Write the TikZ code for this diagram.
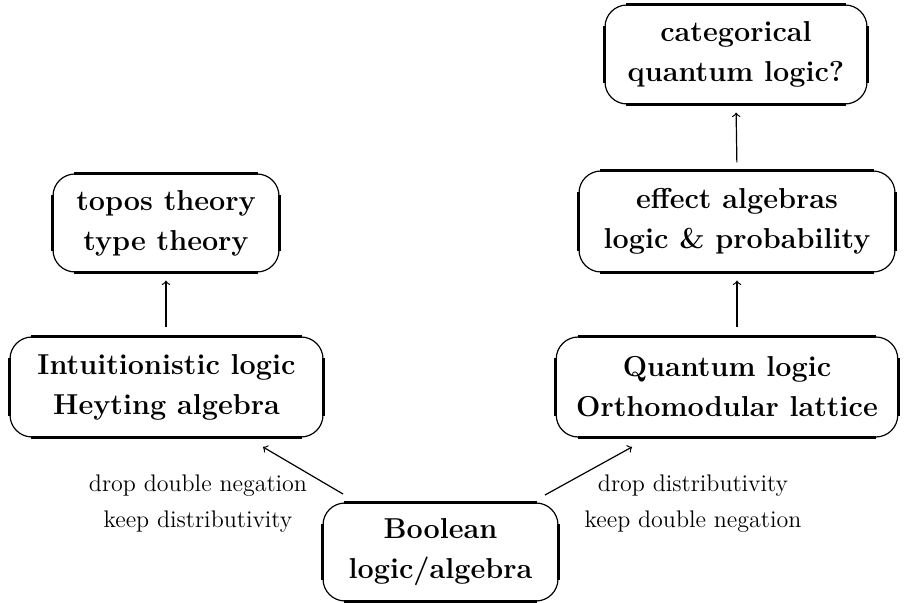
\documentclass[tikz,border=0pt]{standalone}
\usepackage{tikz}
\usetikzlibrary{arrows}
\tikzset{
  box/.style={draw, line width=0.6pt, rounded corners=11pt, align=center,
    font=\fontsize{14.4}{20}\selectfont\bfseries, inner xsep=10pt, inner ysep=0pt,
    minimum height=50pt},
  lab/.style={align=center, font=\fontsize{12}{18}\selectfont, inner sep=0pt},
  arr/.style={->, line width=0.6pt, >=to},
  thk/.style={line width=1.6pt}
}
\newcommand{\thickedges}[1]{%
  \draw[thk] ([xshift=11pt]#1.north west) -- ([xshift=-11pt]#1.north east);
  \draw[thk] ([xshift=11pt]#1.south west) -- ([xshift=-11pt]#1.south east);
  \draw[thk] ([yshift=-11pt]#1.north west) -- ([yshift=11pt]#1.south west);
  \draw[thk] ([yshift=-11pt]#1.north east) -- ([yshift=11pt]#1.south east);
}
\begin{document}
\begin{tikzpicture}[x=0.5pt,y=-0.5pt]
\useasboundingbox (0,0) rectangle (904,603);
\node[box, minimum width=131pt, minimum height=49.5pt] (cat) at (736,54.5) {categorical\\quantum logic?};
\node[box, minimum width=158pt, minimum height=50.5pt] (eff) at (737,221.5) {effect algebras\\logic \& probability};
\node[box, minimum width=113pt, minimum height=49pt] (top) at (166,223) {topos theory\\type theory};
\node[box, minimum width=156.5pt] (int) at (166.5,387) {Intuitionistic logic\\Heyting algebra};
\node[box, minimum width=167pt] (qua) at (727,387) {Quantum logic\\Orthomodular lattice};
\node[box, minimum width=117.5pt, minimum height=49pt] (boo) at (440.5,552) {Boolean\\logic/algebra};
\foreach \n in {cat,eff,top,int,qua,boo} {\thickedges{\n}}
\node[lab] (l1) at (198,504) {drop double negation\\keep distributivity};
\node[lab] (l2) at (693,504) {drop distributivity\\keep double negation};
\coordinate (a1) at (343,494);
\coordinate (b1) at (263,447);
\coordinate (a2) at (545,495);
\coordinate (b2) at (632,447);
\draw[arr] (a1) -- (b1);
\draw[arr] (a2) -- (b2);
\draw[arr, shorten <=4.5pt, shorten >=4pt] (int.north -| top.south) -- (top.south);
\draw[arr, shorten <=4pt, shorten >=4pt] (eff.north) -- (cat.south);
\draw[arr, shorten <=4.5pt, shorten >=4pt] (qua.north -| eff.south) -- (eff.south);
\end{tikzpicture}
\end{document}
